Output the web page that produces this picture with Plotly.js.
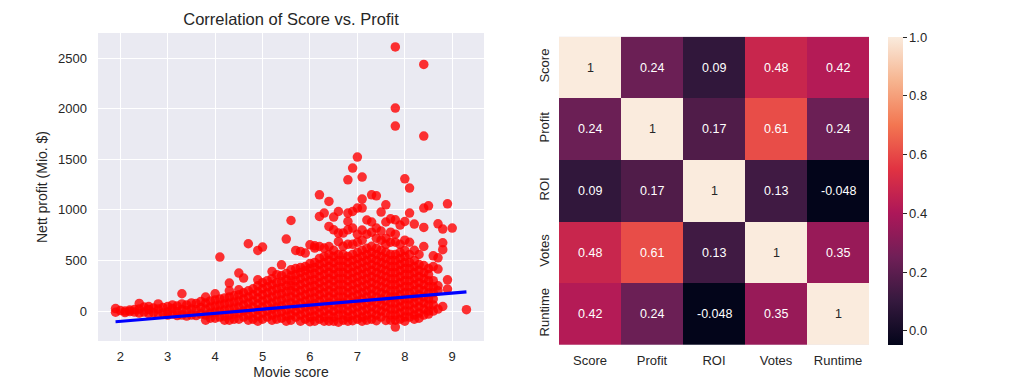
<!DOCTYPE html>
<html>
<head>
<meta charset="utf-8">
<script src="https://cdn.plot.ly/plotly-3.0.1.min.js"></script>
<style>html,body{margin:0;padding:0;background:#fff;}#chart{width:1018px;height:387px;}</style>
</head>
<body>
<div id="chart"></div>
<script>
// ---- Scatter data: movie score columns and the nett profits (Mio. $) read at each score ----
const scoreCols = [1.9,2.0,2.1,2.2,2.3,2.4,2.5,2.6,2.7,2.8,2.9,3.0,3.1,3.2,3.3,3.4,3.5,3.6,3.7,3.8,3.9,
  4.0,4.1,4.2,4.3,4.4,4.5,4.6,4.7,4.8,4.9,5.0,5.1,5.2,5.3,5.4,5.5,5.6,5.7,5.8,5.9,
  6.0,6.1,6.2,6.3,6.4,6.5,6.6,6.7,6.8,6.9,7.0,7.1,7.2,7.3,7.4,7.5,7.6,7.7,7.8,7.9,
  8.0,8.1,8.2,8.3,8.4,8.5,8.6,8.7,8.8,8.9,9.0,9.3];
const profitCols = [
  [25,-12],[5],[0,-15],[-5,10],[-10,15],[75,20,-20],[40,-10],[15,-25,45],[30,-15],[70,20,-30],[35,-20],
  [45,-10,-40],[25,60,-30],[50,-5,-45],[171,70,15,-40],[60,5,-50],[80,20,-40],[75,15,-45],[95,35,-30],
  [138,80,20,-40,-90],[100,40,-20,-70],
  [171,110,50,-10,-70],[533,120,60,0,-60],[130,70,10,-50,-90],[277,200,140,80,20,-40,-90],[150,90,30,-30,-80],
  [375,210,160,100,40,-20,-80],[326,180,120,60,0,-60],[665,200,140,80,20,-40,-90],[220,160,100,40,-20,-80],
  [599,309,250,190,130,70,10,-50,-100],
  [632,280,220,160,100,40,-20,-80],[300,240,180,120,60,0,-60],[391,320,260,200,140,80,20,-40,-90],
  [359,280,220,160,100,40,-20,-80],[457,350,290,230,170,110,50,-10,-70],
  [711,370,310,250,190,130,70,10,-50,-100],[895,408,349,300,250,200,140,80,20,-40,-90],
  [599,420,360,300,240,180,120,60,0,-60],[589,430,380,320,260,200,140,80,20,-40,-100],
  [573,440,400,340,280,220,160,100,40,-20,-80],
  [655,470,420,360,300,240,180,120,60,0,-60,-105],
  [645,622,480,430,370,310,250,190,130,70,10,-50,-100],
  [1149,935,638,520,460,400,340,280,220,160,100,40,-20,-80],
  [968,622,540,480,420,360,300,240,180,120,60,0,-60,-100],
  [1083,836,638,560,500,440,380,320,260,200,140,80,20,-40,-100],
  [929,803,600,540,480,420,360,300,240,180,120,60,0,-60,-100],
  [984,771,687,560,500,440,380,320,260,200,140,80,20,-40,-110],
  [771,640,560,500,440,380,320,260,200,140,80,20,-40,-90],
  [1297,968,885,803,660,540,480,420,360,300,240,180,120,60,0,-60,-100],
  [1413,984,820,660,560,500,440,380,320,260,200,140,80,20,-40,-95],
  [1522,1018,760,680,580,520,460,400,340,280,220,160,100,40,-20,-80],
  [1324,1107,1018,800,700,600,540,480,420,360,300,240,180,120,60,0,-60,-100],
  [900,760,620,560,500,440,380,320,260,200,140,80,20,-40,-90],
  [1149,880,780,640,580,520,460,400,340,280,220,160,100,40,-20,-80],
  [1139,820,720,620,560,500,440,380,320,260,200,140,80,20,-40,-95],
  [978,790,700,600,540,480,420,360,300,240,180,120,60,0,-60],
  [1050,880,720,660,580,520,460,400,340,280,220,160,100,40,-20,-93],
  [912,780,680,560,500,440,380,320,260,200,140,80,20,-40,-90],
  [2610,2006,1828,902,760,680,560,500,440,380,320,260,200,140,80,20,-40,-90,-158],
  [850,660,580,520,460,400,340,280,220,160,100,40,-20,-80],
  [1307,885,700,600,540,480,420,360,300,240,180,120,60,0,-60,-100],
  [1215,968,680,560,480,420,360,300,240,180,120,60,0,-60],
  [860,600,500,440,380,320,260,200,140,80,20,-40,-80],
  [560,460,400,340,280,220,160,100,40,-20,-70],
  [2437,1729,1018,826,638,450,380,320,260,200,140,80,20,-40],
  [1040,420,360,300,240,180,120,60,0,-30],
  [546,440,300,240,180,120,60,0],
  [862,526,415,250,200,20],
  [810,675,606,45],
  [1060,309,217],
  [820],
  [13]
];
// Fitted regression line
const fitScore = [1.9, 9.3];
const fitProfit = [-106, 190];

// ---- Heatmap data ----
const corrLabels = ['Score','Profit','ROI','Votes','Runtime'];
const corrValues = [
  [1, 0.24, 0.09, 0.48, 0.42],
  [0.24, 1, 0.17, 0.61, 0.24],
  [0.09, 0.17, 1, 0.13, -0.048],
  [0.48, 0.61, 0.13, 1, 0.35],
  [0.42, 0.24, -0.048, 0.35, 1]
];
const cbTicks = [0, 0.2, 0.4, 0.6, 0.8, 1.0];

// ---- build ----
const xs = [], ys = [];
scoreCols.forEach((s, i) => profitCols[i].forEach(p => { xs.push(s); ys.push(p); }));

const rocket = [
  [0, '#03051A'], [1/7, '#35193E'], [2/7, '#701F57'], [3/7, '#AD1759'],
  [4/7, '#E13342'], [5/7, '#F37651'], [6/7, '#F6B48F'], [1, '#FAEBDD']
];
const zmin = -0.048, zmax = 1.0;
const txt = '#262626';
const FONT = 'Liberation Sans, Arial, sans-serif';

const traces = [
  {type: 'scatter', mode: 'markers', x: xs, y: ys, xaxis: 'x', yaxis: 'y',
   marker: {color: '#FF0000', size: 9.5, opacity: 0.8, line: {width: 0}}, hoverinfo: 'x+y', showlegend: false},
  {type: 'scatter', mode: 'lines', x: fitScore, y: fitProfit, xaxis: 'x', yaxis: 'y',
   line: {color: '#0000FF', width: 3.2}, showlegend: false},
  {type: 'heatmap', z: corrValues, x: corrLabels, y: corrLabels, xaxis: 'x2', yaxis: 'y2',
   colorscale: rocket, zmin: zmin, zmax: zmax, showscale: true,
   colorbar: {thickness: 15, thicknessmode: 'pixels', len: 308, lenmode: 'pixels',
     x: 888/1018, xanchor: 'left', y: 1 - 37/387, yanchor: 'top', xpad: 0, ypad: 0,
     outlinewidth: 0, ticks: 'outside', ticklen: 4, tickwidth: 1, tickcolor: txt,
     tickvals: cbTicks, tickformat: '.1f', tickfont: {family: FONT, size: 13, color: txt}}}
];

const annotations = [];
corrValues.forEach((row, i) => row.forEach((v, j) => {
  annotations.push({x: corrLabels[j], y: corrLabels[i], xref: 'x2', yref: 'y2', text: String(v),
    showarrow: false, font: {family: FONT, size: 12.5, color: v > 0.8 ? txt : '#FFFFFF'}});
}));

const layout = {
  width: 1018, height: 387,
  margin: {l: 0, r: 0, t: 0, b: 0},
  paper_bgcolor: '#FFFFFF',
  font: {family: FONT, color: txt, size: 13},
  showlegend: false,
  title: {text: 'Correlation of Score vs. Profit', font: {family: FONT, size: 16.5, color: txt},
    x: (98+484)/2/1018, xanchor: 'center', xref: 'paper', y: 1 - 19.5/387, yanchor: 'middle', yref: 'container'},
  xaxis: {domain: [98/1018, 484/1018], range: [1.53, 9.67], tickvals: [2,3,4,5,6,7,8,9],
    showgrid: true, gridcolor: '#FFFFFF', gridwidth: 1, zeroline: false, showline: false, ticks: '',
    tickfont: {size: 13, color: txt}, ticklabelstandoff: 6,
    title: {text: 'Movie score', font: {size: 14, color: txt}, standoff: 3}, anchor: 'y', automargin: false},
  yaxis: {domain: [1 - 341/387, 1 - 33/387], range: [-296, 2748], tickvals: [0,500,1000,1500,2000,2500],
    showgrid: true, gridcolor: '#FFFFFF', gridwidth: 1, zeroline: false, showline: false, ticks: '',
    tickfont: {size: 13, color: txt}, ticklabelstandoff: 10,
    title: {text: 'Nett profit (Mio. $)', font: {size: 14, color: txt}, standoff: 7}, anchor: 'x', automargin: false},
  xaxis2: {domain: [559/1018, 869/1018], anchor: 'y2', showgrid: false, zeroline: false, showline: false,
    ticks: '', tickfont: {size: 13, color: txt}, ticklabelstandoff: 6, automargin: false},
  yaxis2: {domain: [1 - 345/387, 1 - 36.7/387], anchor: 'x2', autorange: 'reversed', showgrid: false,
    zeroline: false, showline: false, ticks: '', tickangle: -90, tickfont: {size: 13, color: txt},
    ticklabelstandoff: 6, automargin: false},
  plot_bgcolor: '#EAEAF2',
  annotations: annotations
};

Plotly.newPlot('chart', traces, layout, {staticPlot: true, displayModeBar: false});
</script>
</body>
</html>
